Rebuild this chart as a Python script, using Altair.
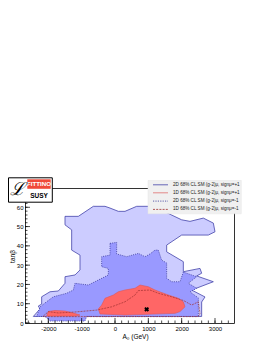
import altair as alt
import pandas as pd

# ---------------- data (A0 in GeV, tan beta) ----------------
# 2D 68% CL, sign mu = +1 (light region, solid outline)
outer_x = [-1500, -1100, -650, -300, -150, 100, 300, 650, 1150, 2000, 2250, 2650, 2950, 3000,
           2800, 2000, 1550, 1550, 2050, 2050, 2550, 2600, 2450, 2950, 2300, 2700, 2600, 2600,
           -2450, -2250, -2300, -2200, -2200, -1950, -1700, -1500, -1500, -1200, -1050, -1050,
           -1300, -1300, -1500]
outer_y = [55.3, 55.3, 60.5, 60.5, 59.6, 57.9, 57.9, 60.5, 60.5, 53.5, 52.7, 54.4, 51.8, 47.3,
           45.6, 45.6, 40.4, 36.9, 31.8, 26.6, 28.3, 25.8, 24.4, 21.4, 17.1, 13.5, 10.9, 3.4,
           3.4, 7.3, 8.8, 9.8, 13.6, 16.2, 16.6, 20.6, 24.0, 24.9, 27.5, 35.2,
           37.8, 48.3, 50.9]

# 2D 68% CL, sign mu = -1 (medium region, dotted outline)
mid_x = [-150, 50, 50, 350, 700, 900, 1050, 1200, 1300, 1400, 1550, 1550, 1700, 1950, 2050,
         2450, 2200, 2450, 2250, 2500, 2500, -850, -900, -1950, -2100, -2350, -2250, -2100,
         -1850, -1450, -1250, -1200, -800, -200, -200, -400, -400, -150]
mid_y = [41.3, 41.8, 35.8, 34.4, 36.1, 34.4, 35.8, 37.8, 37.8, 32.6, 31.1, 23.2, 21.4, 21.4, 26.4,
         24.0, 20.6, 18.0, 16.1, 13.0, 3.4, 3.4, 1.0, 1.0, 3.4, 3.4, 8.3, 10.4,
         13.6, 15.4, 17.1, 20.6, 19.7, 24.9, 28.3, 29.2, 34.4, 35.2]

# 1D 68% CL, sign mu = +1 (red filled region, two parts)
red_x = [-400, -300, -50, 100, 300, 600, 750, 1000, 1200, 1600, 1900, 2050, 2100, 1950, 1800,
         300, -450, -500]
red_y = [9.3, 12.8, 14.5, 16.2, 17.1, 18.0, 19.7, 18.8, 17.1, 14.5, 12.8, 11.0, 8.4, 5.9, 5.0,
         4.1, 4.7, 7.3]
red2_x = [-2050, -2000, -1800, -1500, -1300, -1050, -1200]
red2_y = [3.6, 6.0, 6.5, 6.2, 5.4, 4.1, 3.6]

# 1D 68% CL, sign mu = -1 (dark red dashed contour)
dred_x = [-2150, -2000, -1700, -1200, -550, -100, 300, 600, 700, 1050, 1300, 1700, 2050, 2300,
          2500, 2550, 2500, -2150]
dred_y = [3.6, 5.9, 5.2, 5.7, 6.7, 8.4, 11.0, 14.5, 16.8, 17.1, 15.4, 13.6, 11.7, 9.3,
          11.0, 5.0, 3.3, 3.3]

best_x = [950]
best_y = [7.1]

x_labels = [-2000, -1000, 0, 1000, 2000, 3000]
x_minor = list(range(-2600, 3500, 200))
y_labels = [0, 10, 20, 30, 40, 50, 60]
y_major = [0, 10, 20, 30, 40, 50, 60, 70]
y_minor = list(range(0, 71, 2))

legend_labels = [
    "2D 68% CL SM (g-2)\u03bc, sign\u03bc=+1",
    "1D 68% CL SM (g-2)\u03bc, sign\u03bc=+1",
    "2D 68% CL SM (g-2)\u03bc, sign\u03bc=-1",
    "1D 68% CL SM (g-2)\u03bc, sign\u03bc=-1",
]

# ---------------- chart ----------------
W, H = 209, 135
FONT = "Liberation Sans"
xs = alt.Scale(domain=[-2700, 3570], nice=False, zero=False)
ys = alt.Scale(domain=[0, 70], nice=False, zero=False)

XA = alt.Axis(values=x_labels, title="A\u2080 (GeV)", tickSize=0, domain=False, grid=False,
              labelFontSize=6, labelPadding=2, labelFont=FONT, labelColor="black",
              labelExpr="'' + datum.value",
              titleFont=FONT, titleFontSize=6.5, titleFontWeight="normal", titleColor="black",
              titleX=110, titleY=13.5, titleBaseline="middle")
YA = alt.Axis(values=y_labels, title="tan\u03b2", tickSize=0, domain=False, grid=False,
              labelFontSize=6, labelPadding=2, labelFont=FONT, labelColor="black",
              titleFont=FONT, titleFontSize=6.5, titleFontWeight="normal", titleColor="black",
              titleAngle=-90, titleX=-13, titleY=68, titleBaseline="middle")


def X(field):
    return alt.X(field, scale=xs, axis=XA, title="A\u2080 (GeV)")


def Y(field):
    return alt.Y(field, scale=ys, axis=YA, title="tan\u03b2")


def poly(xv, yv):
    return pd.DataFrame({"x": xv, "y": yv, "i": list(range(len(xv)))})


def region(xv, yv, **kw):
    return alt.Chart(poly(xv, yv)).mark_line(interpolate="linear-closed", **kw).encode(
        x=X("x:Q"), y=Y("y:Q"), order="i:Q")


BLUE = "#4444aa"
layers = [
    region(outer_x, outer_y, fill="#ccccff", stroke=BLUE, strokeWidth=0.8),
    region(mid_x, mid_y, fill="#9999ff", stroke="#3a3a9a", strokeWidth=0.8, strokeDash=[1, 1.2]),
    region(red_x, red_y, fill="#ff6666", stroke="#e05555", strokeWidth=0.6),
    region(red2_x, red2_y, fill="#ff6666", stroke="#e05555", strokeWidth=0.6),
    region(dred_x, dred_y, stroke="#a03030", strokeWidth=0.7, strokeDash=[2, 1]),
]

layers.append(
    alt.Chart(pd.DataFrame({"x": best_x, "y": best_y})).mark_point(
        shape="cross", angle=45, filled=True, color="black", size=24, opacity=1
    ).encode(x=X("x:Q"), y=Y("y:Q"))
)


def xticks(vals, length):
    return alt.Chart(pd.DataFrame({"x": vals})).mark_rule(color="black", strokeWidth=0.7).encode(
        x=X("x:Q"), y=alt.value(H), y2=alt.value(H - length))


def yticks(vals, length):
    return alt.Chart(pd.DataFrame({"y": vals})).mark_rule(color="black", strokeWidth=0.7).encode(
        y=Y("y:Q"), x=alt.value(0), x2=alt.value(length))


layers += [xticks(x_minor, 2.5), xticks(x_labels, 5), yticks(y_minor, 2.5), yticks(y_major, 5)]

one = pd.DataFrame({"a": [0]})

# logo
layers.append(alt.Chart(one).mark_rect(fill="white", stroke="black", strokeWidth=1).encode(
    x=alt.value(-16.5), x2=alt.value(27.3), y=alt.value(-10.2), y2=alt.value(14.2)))
layers.append(alt.Chart(one).mark_rect(fill="#f04a3a").encode(
    x=alt.value(2.3), x2=alt.value(25.7), y=alt.value(-8.7), y2=alt.value(0.8)))
layers.append(alt.Chart(pd.DataFrame({"t": ["FITTINO"]})).mark_text(
    font=FONT, fontSize=6.2, fontWeight="bold", color="white", align="center", baseline="middle"
).encode(text="t:N", x=alt.value(14), y=alt.value(-3.8)))
layers.append(alt.Chart(pd.DataFrame({"t": ["\u2112"]})).mark_text(
    font="DejaVu Serif", fontSize=18, fontStyle="italic", color="black", align="center", baseline="middle"
).encode(text="t:N", x=alt.value(-8), y=alt.value(2)))
layers.append(alt.Chart(pd.DataFrame({"t": ["SUSY"]})).mark_text(
    font=FONT, fontSize=6.5, fontWeight="bold", color="black", align="center", baseline="middle"
).encode(text="t:N", x=alt.value(14), y=alt.value(7.5)))

# legend
layers.append(alt.Chart(one).mark_rect(fill="#f0f0f0", stroke="#e4e4e4", strokeWidth=0.5).encode(
    x=alt.value(123), x2=alt.value(216.3), y=alt.value(-7.5), y2=alt.value(25.8)))
styles = [
    dict(color=BLUE),
    dict(color="#e07070"),
    dict(color="#3a3a9a", strokeDash=[1.2, 1.2]),
    dict(color="#a03030", strokeDash=[2, 1.2]),
]
row_y = [-3.2, 4.8, 13.1, 21.4]
for lab, st, yy in zip(legend_labels, styles, row_y):
    layers.append(alt.Chart(one).mark_rule(strokeWidth=0.8, **st).encode(
        x=alt.value(128), x2=alt.value(143), y=alt.value(yy)))
    layers.append(alt.Chart(pd.DataFrame({"t": [lab]})).mark_text(
        font=FONT, fontSize=4.6, color="#222", align="left", baseline="middle"
    ).encode(text="t:N", x=alt.value(148), y=alt.value(yy)))

chart = alt.layer(*layers).properties(
    width=W, height=H, autosize="none",
    padding={"left": 17, "top": 180, "right": 10, "bottom": 20},
).configure_view(stroke="#333", strokeWidth=1)

chart.save("out.html", embed_options={"renderer": "svg", "actions": False})
